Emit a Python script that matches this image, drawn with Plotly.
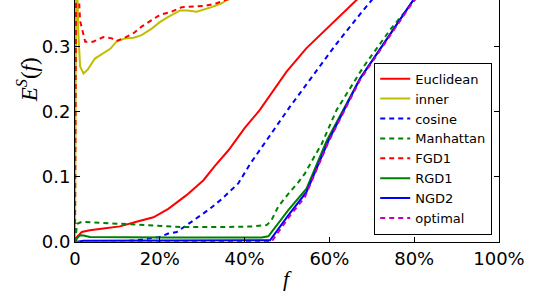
import plotly.graph_objects as go

# ---- data (f in %, E^S(f)) ----
euc_f = [0, 0.5, 1.6, 3.5, 6.7, 10.6, 14.5, 18.5, 22, 24.8, 26.3, 30.3, 33, 36.2, 40, 43.6, 47, 49.9, 54.6, 60.1, 66.4, 72, 80, 90, 100]
euc_y = [0, 0.008, 0.0154, 0.018, 0.0206, 0.024, 0.031, 0.038, 0.051, 0.064, 0.072, 0.095, 0.117, 0.141, 0.175, 0.203, 0.235, 0.262, 0.298, 0.333, 0.372, 0.405, 0.45, 0.5, 0.55]

inner_f = [0, 0.3, 0.8, 1.2, 2, 3, 4.7, 6.7, 8.3, 9.8, 11.8, 13.8, 15.7, 18.1, 20, 22, 24.8, 26.5, 28.7, 32.2, 34.6, 35.8, 40, 50, 60, 80, 100]
inner_y = [0, 0.45, 0.32, 0.27, 0.259, 0.265, 0.282, 0.29, 0.297, 0.308, 0.313, 0.314, 0.318, 0.328, 0.338, 0.346, 0.356, 0.356, 0.354, 0.361, 0.367, 0.372, 0.38, 0.40, 0.42, 0.45, 0.48]

cos_f = [0, 5, 8, 14.5, 20, 22, 24, 27.9, 31.8, 34.6, 38.5, 41.3, 43.6, 44.4, 50.7, 57, 61.7, 67.2, 70, 80, 90, 100]
cos_y = [0, 0, 0.0005, 0.0026, 0.0077, 0.013, 0.0154, 0.033, 0.051, 0.066, 0.09, 0.12, 0.141, 0.149, 0.208, 0.264, 0.305, 0.35, 0.372, 0.44, 0.5, 0.55]

man_f = [0, 0.5, 1.6, 5, 10, 16, 20, 25.5, 35.8, 42, 45.2, 46.3, 47.9, 50.3, 52.7, 54.2, 56.6, 58.2, 61.7, 66.8, 68, 74.3, 79.4, 90, 100]
man_y = [0, 0.028, 0.031, 0.030, 0.028, 0.026, 0.025, 0.023, 0.023, 0.024, 0.026, 0.033, 0.054, 0.074, 0.092, 0.105, 0.133, 0.151, 0.203, 0.256, 0.269, 0.326, 0.367, 0.45, 0.52]

fgd_f = [0, 0.3, 1.2, 2.4, 4.3, 6.7, 8.7, 9.8, 11.4, 13.8, 15.7, 18.1, 20, 22.8, 25.2, 28.3, 30.7, 33.4, 35.4, 40, 50, 60, 80, 100]
fgd_y = [0, 0.46, 0.34, 0.308, 0.308, 0.315, 0.313, 0.309, 0.313, 0.321, 0.331, 0.341, 0.349, 0.354, 0.361, 0.362, 0.363, 0.367, 0.372, 0.38, 0.40, 0.42, 0.45, 0.48]

rgd_f = [0, 0.5, 1.2, 2, 3.5, 10.6, 22, 35, 44, 45.6, 50.3, 54.6, 59.4, 67.2, 79.8, 90, 100]
rgd_y = [0, 0.006, 0.0103, 0.010, 0.0077, 0.007, 0.007, 0.007, 0.007, 0.0088, 0.049, 0.082, 0.156, 0.251, 0.372, 0.45, 0.52]

ngd_f = [0, 2, 46, 50.3, 54.6, 59.8, 67.2, 79.8, 90, 100]
ngd_y = [0, 0.002, 0.0026, 0.041, 0.077, 0.156, 0.251, 0.372, 0.45, 0.52]

opt_f = [0, 46.3, 50.3, 54.2, 59.8, 67.2, 79.8, 90, 100]
opt_y = [0, 0, 0.037, 0.069, 0.154, 0.249, 0.37, 0.45, 0.52]

x_tickvals = [0, 20, 40, 60, 80, 100]
x_ticktext = ["0", "20%", "40%", "60%", "80%", "100%"]
y_tickvals = [0.0, 0.1, 0.2, 0.3]

series = [
    ("Euclidean", euc_f, euc_y, "#FF0000", "solid"),
    ("inner", inner_f, inner_y, "#BFBF00", "solid"),
    ("cosine", cos_f, cos_y, "#0000FF", "5px,4px"),
    ("Manhattan", man_f, man_y, "#008000", "5px,4px"),
    ("FGD1", fgd_f, fgd_y, "#FF0000", "5px,4px"),
    ("RGD1", rgd_f, rgd_y, "#008000", "solid"),
    ("NGD2", ngd_f, ngd_y, "#0000FF", "solid"),
    ("optimal", opt_f, opt_y, "#BF00BF", "5px,4px"),
]

fig = go.Figure()
for i, (name, xs, ys, col, dash) in enumerate(series):
    fig.add_trace(go.Scatter(x=xs, y=ys, mode="lines", name=name,
                             legendgroup="g%d" % i,
                             line=dict(color=col, width=2, dash=dash)))

fig.update_layout(
    width=538, height=300,
    margin=dict(l=75, r=39, t=0, b=58, autoexpand=False),
    paper_bgcolor="white", plot_bgcolor="white",
    font=dict(family="DejaVu Sans", size=18, color="black"),
    showlegend=True,
    legend=dict(x=0.984, y=0.03, xanchor="right", yanchor="bottom",
                bgcolor="white", bordercolor="black", borderwidth=1,
                font=dict(family="DejaVu Sans", size=13, color="black"),
                tracegroupgap=0, traceorder="normal"),
)
fig.update_xaxes(range=[0, 100], tickvals=x_tickvals, ticktext=x_ticktext,
                 ticks="inside", ticklen=5, tickcolor="black", automargin=False,
                 showline=True, linecolor="black", linewidth=1, mirror=False,
                 showgrid=False, zeroline=False)
fig.update_yaxes(range=[0, 0.372], tickvals=y_tickvals, tickformat=".1f",
                 ticks="inside", ticklen=5, tickcolor="black", automargin=False,
                 showline=True, linecolor="black", linewidth=1, mirror="ticks",
                 showgrid=False, zeroline=False)

fig.add_annotation(xref="paper", yref="paper", x=-0.113, y=0.669,
                   xanchor="center", yanchor="middle",
                   text="<i>E</i><sup><i>S</i></sup>(<i>f</i>)", textangle=-90,
                   showarrow=False, font=dict(family="Liberation Serif", size=23, color="black"))
fig.add_annotation(xref="paper", yref="paper", x=0.5, y=-0.15,
                   xanchor="center", yanchor="middle",
                   text="<i>f</i>", showarrow=False,
                   font=dict(family="Liberation Serif", size=22, color="black"))

fig.write_html("out.html", config={"displayModeBar": False},
               post_script="document.body.style.margin='0';document.body.style.overflow='hidden';")
